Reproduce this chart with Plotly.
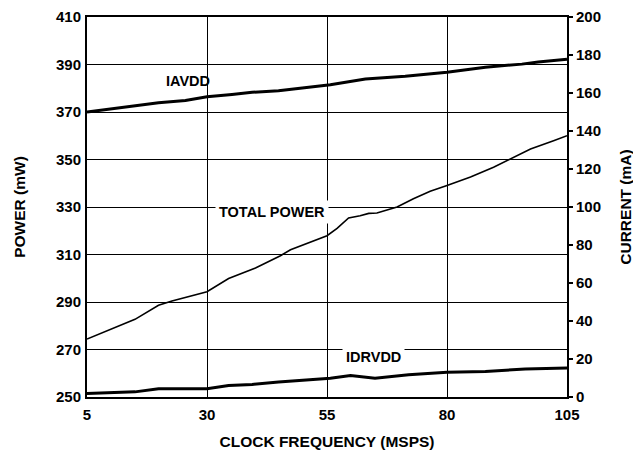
import plotly.graph_objects as go

# Clock frequency (MSPS) sample points and values
freq_total = [5, 10.2, 15, 19.9, 22.7, 30, 34.5, 40.1, 45.3, 47.4, 55, 57.1, 59.5, 61.9,
              63.7, 65.4, 69.6, 73, 76.5, 80, 84.9, 89.7, 93.9, 97.4, 102.2, 105]
total_power_mw = [274.4, 278.8, 282.7, 288.6, 290.4, 294.3, 299.9, 304.3, 309.5, 312.0, 317.9,
                  321.0, 325.4, 326.3, 327.3, 327.5, 330.0, 333.5, 336.6, 339.1, 342.6,
                  346.7, 350.9, 354.4, 357.9, 360.0]

freq_iavdd = [5, 15, 19.9, 25.5, 30, 35.2, 39.4, 44.9, 49.8, 55.7, 63, 71.3, 80, 88, 95.6, 99, 105]
iavdd_ma = [150.0, 153.1, 154.9, 156.0, 158.0, 159.2, 160.4, 161.2, 162.6, 164.4, 167.4,
            168.8, 170.9, 173.6, 175.2, 176.3, 177.8]

freq_idrvdd = [5, 15, 19.9, 30, 34.5, 39.4, 44.9, 49.8, 55.7, 59.9, 65, 72, 80, 88, 96.3, 105]
idrvdd_ma = [1.8, 2.7, 4.4, 4.4, 6.1, 6.6, 7.9, 8.7, 9.9, 11.3, 9.9, 11.7, 13.0, 13.4, 14.8, 15.3]

x_ticks = [5, 30, 55, 80, 105]
power_ticks = list(range(250, 411, 20))
current_ticks = list(range(0, 201, 20))

FONT = "Liberation Sans, Arial, sans-serif"
TICK = dict(size=15, family=FONT, color="black")
TITLE = dict(size=15.5, family=FONT, color="black")

fig = go.Figure()
fig.add_trace(go.Scatter(x=freq_total, y=total_power_mw, mode="lines",
                         line=dict(color="black", width=1.6), yaxis="y", name="TOTAL POWER"))
fig.add_trace(go.Scatter(x=freq_iavdd, y=iavdd_ma, mode="lines",
                         line=dict(color="black", width=3), yaxis="y2", name="IAVDD"))
fig.add_trace(go.Scatter(x=freq_idrvdd, y=idrvdd_ma, mode="lines",
                         line=dict(color="black", width=3), yaxis="y2", name="IDRVDD"))

ann_font = dict(family=FONT, size=14.5, color="black")
fig.add_annotation(x=26, y=383, xref="x", yref="y", text="<b>IAVDD</b>", showarrow=False, font=ann_font)
fig.add_annotation(x=43.6, y=328, xref="x", yref="y", text="<b>TOTAL POWER</b>", showarrow=False,
                   font=ann_font, bgcolor="white", borderpad=3)
fig.add_annotation(x=64.7, y=267, xref="x", yref="y", text="<b>IDRVDD</b>", showarrow=False,
                   font=ann_font, bgcolor="white", borderpad=3)

fig.update_layout(
    width=633, height=447,
    margin=dict(l=79, r=74, t=9, b=58),
    paper_bgcolor="white", plot_bgcolor="white",
    showlegend=False,
    font=dict(family=FONT, color="black"),
    xaxis=dict(range=[5, 105], tickvals=x_ticks, ticktext=[f"<b>{v}</b>" for v in x_ticks],
               showgrid=True, gridcolor="black", gridwidth=1,
               showline=True, linecolor="black", linewidth=2, mirror=True,
               ticks="", ticklabelstandoff=3, tickfont=TICK, automargin=False,
               ticklabeloverflow="allow",
               title=dict(text="<b>CLOCK FREQUENCY (MSPS)</b>", font=TITLE, standoff=14),
               zeroline=False),
    yaxis=dict(range=[250, 410], tickvals=power_ticks, ticktext=[f"<b>{v}</b>" for v in power_ticks],
               showgrid=True, gridcolor="black", gridwidth=1,
               showline=True, linecolor="black", linewidth=2, mirror=True,
               ticks="", ticklabelstandoff=1, tickfont=TICK, automargin=False,
               ticklabeloverflow="allow",
               title=dict(text="<b>POWER (mW)</b>", font=TITLE, standoff=27),
               zeroline=False),
    yaxis2=dict(range=[0, 200], tickvals=current_ticks, ticktext=[f"<b>{v}</b>" for v in current_ticks],
                overlaying="y", side="right", showgrid=False,
                showline=True, linecolor="black", linewidth=2,
                ticks="outside", ticklen=4, tickcolor="black", tickwidth=1.5,
                tickfont=TICK, automargin=False, ticklabeloverflow="allow",
                title=dict(text="<b>CURRENT (mA)</b>", font=TITLE, standoff=20),
                zeroline=False),
)

fig.write_html("out.html")
